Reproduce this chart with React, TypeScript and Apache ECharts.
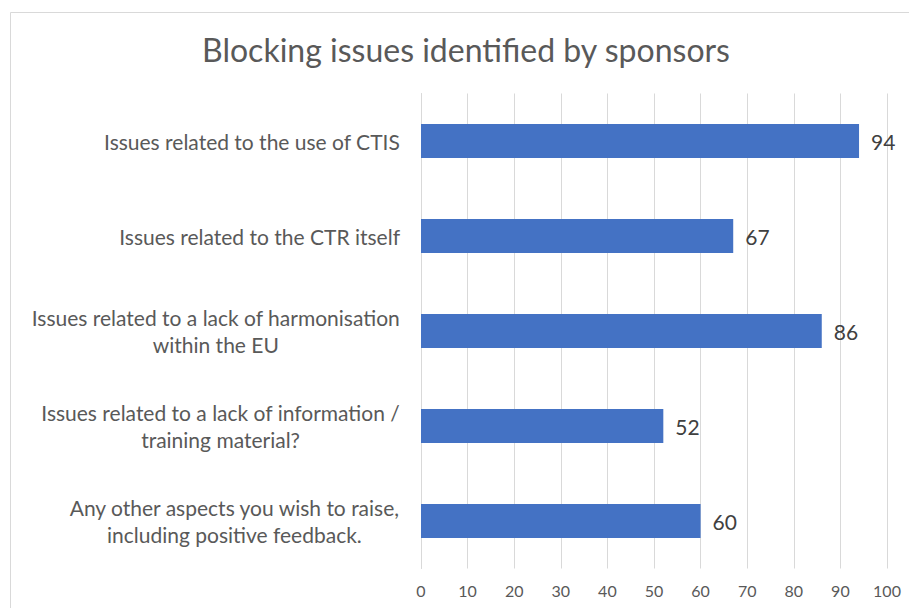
import React, { useEffect, useRef } from "react";
import * as echarts from "echarts";

const titleText = "Blocking issues identified by sponsors";
const categories = [
  "Issues related to the use of CTIS",
  "Issues related to the CTR itself",
  "Issues related to a lack of harmonisation\nwithin the EU",
  "Issues related to a lack of information /\ntraining material?",
  "Any other aspects you wish to raise,\nincluding positive feedback.",
];
const values = [94, 67, 86, 52, 60];
const xMin = 0;
const xMax = 100;
const xInterval = 10;

const FONT = "Lato";

export default function App() {
  const ref = useRef<HTMLDivElement>(null);
  useEffect(() => {
    if (!ref.current) return;
    const chart = echarts.init(ref.current, null, { renderer: "svg" });
    chart.setOption({
      animation: false,
      backgroundColor: "#ffffff",
      title: {
        text: titleText,
        left: 461,
        textAlign: "center",
        top: 28,
        textStyle: {
          fontFamily: FONT,
          fontSize: 32,
          fontWeight: "normal",
          color: "#595959",
        },
      },
      graphic: [
        {
          type: "rect",
          shape: { x: 10.5, y: 12.5, width: 905, height: 620 },
          style: { fill: "none", stroke: "#d9d9d9", lineWidth: 1 },
          silent: true,
          z: -1,
        },
      ],
      grid: { left: 421, right: 22, top: 93.5, bottom: 39.5 },
      xAxis: {
        type: "value",
        min: xMin,
        max: xMax,
        interval: xInterval,
        axisLine: { show: false },
        axisTick: { show: false },
        splitLine: { show: true, lineStyle: { color: "#d9d9d9", width: 1 } },
        axisLabel: {
          color: "#595959",
          fontFamily: FONT,
          fontSize: 16,
          margin: 14,
        },
      },
      yAxis: {
        type: "category",
        data: categories,
        inverse: true,
        axisLine: { show: true, lineStyle: { color: "#d9d9d9" } },
        axisTick: { show: false },
        axisLabel: {
          margin: 21,
          formatter: (v: string) =>
            v
              .split("\n")
              .map((l) => `{a|${l}}`)
              .join("\n"),
          rich: {
            a: {
              align: "center",
              fontFamily: FONT,
              fontSize: 21,
              lineHeight: 27,
              color: "#595959",
            },
          },
        },
      },
      series: [
        {
          type: "bar",
          data: values,
          barCategoryGap: "64%",
          itemStyle: { color: "#4472c4" },
          label: {
            show: true,
            position: "right",
            distance: 12,
            color: "#404040",
            fontFamily: FONT,
            fontSize: 21,
          },
        },
      ],
    });
    return () => chart.dispose();
  }, []);
  return (
    <div
      ref={ref}
      style={{ position: "fixed", left: 0, top: 0, width: 909, height: 608 }}
    />
  );
}
